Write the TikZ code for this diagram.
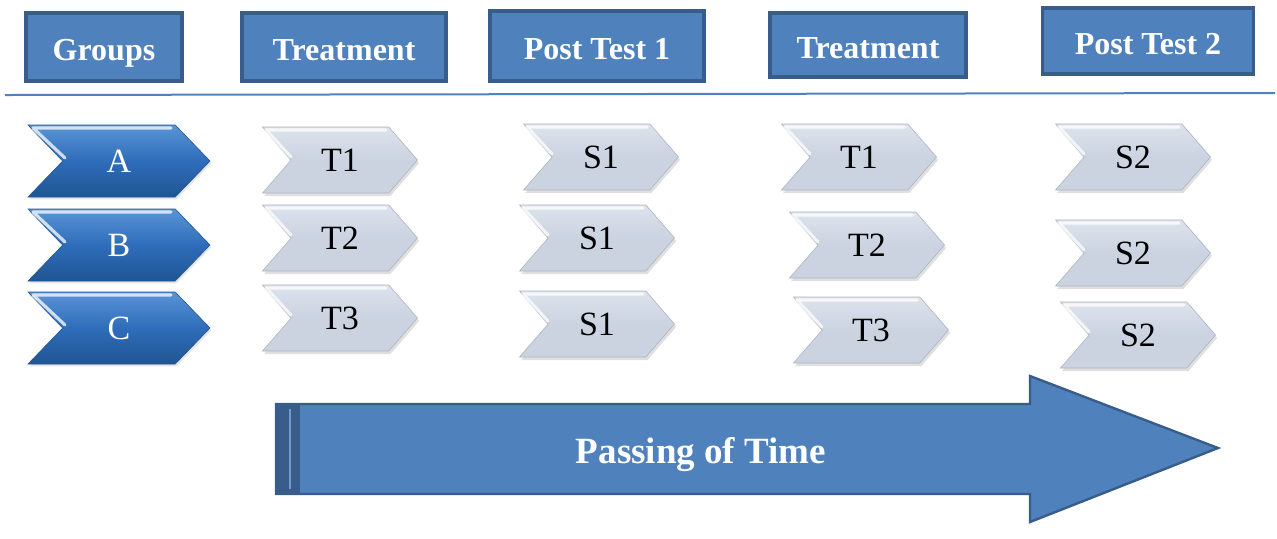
\documentclass[tikz,border=0pt]{standalone}
\usepackage{fontspec}
\setmainfont{Liberation Serif}
\usepackage{tikz}
\usepackage{xcolor}
\usetikzlibrary{shapes.symbols,shadows,calc}
\definecolor{cA}{HTML}{4f81bd}
\definecolor{cB}{HTML}{385d8a}
\definecolor{cC}{HTML}{cbd3e1}
\definecolor{cD}{HTML}{5a94d6}
\definecolor{cE}{HTML}{1f5592}
\definecolor{cF}{HTML}{dde3ec}
\definecolor{cG}{HTML}{2f6dba}
\tikzset{
  head/.style={draw=cB,line width=1.6pt,fill=cA,text=white,inner sep=0pt,
               text height=15pt,text depth=2pt,
               font=\fontsize{16}{18}\selectfont\bfseries},
  grp/.style={signal,signal to=east,signal from=west,signal pointer angle=92,
              draw=cE,line width=0.3pt,top color=cD,bottom color=cE,middle color=cG,
              text=white,minimum width=91pt,minimum height=36pt,inner sep=0pt,
              font=\fontsize{17}{19}\selectfont,
              drop shadow={opacity=0.2,shadow xshift=0.6pt,shadow yshift=-1.2pt}},
  stage/.style={signal,signal to=east,signal from=west,signal pointer angle=98,
              draw=cC!85!black,line width=0.3pt,top color=cF,bottom color=cC,middle color=cC,
              minimum width=77.5pt,minimum height=33pt,inner sep=0pt,
              font=\fontsize{17}{19}\selectfont,
              drop shadow={opacity=0.25,shadow xshift=0.8pt,shadow yshift=-1.5pt}},
  bevel/.style={white,line width=1.6pt,opacity=0.75,line cap=round,line join=round},
}
\begin{document}
\begin{tikzpicture}[x=0.5pt,y=-0.5pt]
  \useasboundingbox (0,0) rectangle (1277,538);
  % column heads
  \node[head,minimum width=78pt,minimum height=34pt] (hGrp) at (104,47) {Groups};
  \node[head,minimum width=102pt,minimum height=34pt] (hTrA) at (344,47) {Treatment};
  \node[head,minimum width=107pt,minimum height=35pt] (hPtA) at (597,46) {Post Test 1};
  \node[head,minimum width=98pt,minimum height=32pt] (hTrB) at (868,45) {Treatment};
  \node[head,minimum width=105.5pt,minimum height=33pt] (hPtB) at (1148,41) {Post Test 2};
  \coordinate (lnL) at (5,95);
  \coordinate (lnR) at (1275,93);
  \draw[cA,line width=1pt] (lnL) -- (lnR);
  % groups
  \foreach \g/\y in {A/161,B/245,C/328}{
    \node[grp] (g\g) at (119,\y) {\g};
    \draw[bevel] ($(g\g.center)+(-54,-3)$) -- ($(g\g.center)+(-86,-33)$) -- ($(g\g.center)+(52,-33)$);}
  % treatments and tests
  \foreach \n/\x/\y/\t in {tA1/340/160/T1,tA2/340/238/T2,tA3/340/318/T3,
      sA1/601/157/S1,sA2/597/238/S1,sA3/597/324/S1,
      tB1/859/157/T1,tB2/867/245/T2,tB3/871/330/T3,
      sB1/1133/157/S2,sB2/1133/253/S2,sB3/1138/335/S2}
    {\node[stage] (\n) at (\x,\y) {\t};
     \draw[bevel] ($(\n.center)+(-49,-3)$) -- ($(\n.center)+(-74,-30)$) -- ($(\n.center)+(46,-30)$);}
  % time arrow
  \draw[draw=cB,line width=1.2pt,fill=cA] (276,404) -- (1030,404) -- (1030,376)
     -- (1218,448) -- (1030,522) -- (1030,494) -- (276,494) -- cycle;
  \fill[cB] (276,404) rectangle (300,494);
  \draw[cA!80!white,line width=1.2pt] (290,409) -- (290,489);
  \node[anchor=base,text=white,font=\fontsize{18.5}{21}\selectfont\bfseries] (time) at (701,463) {Passing of Time};
\end{tikzpicture}
\end{document}
